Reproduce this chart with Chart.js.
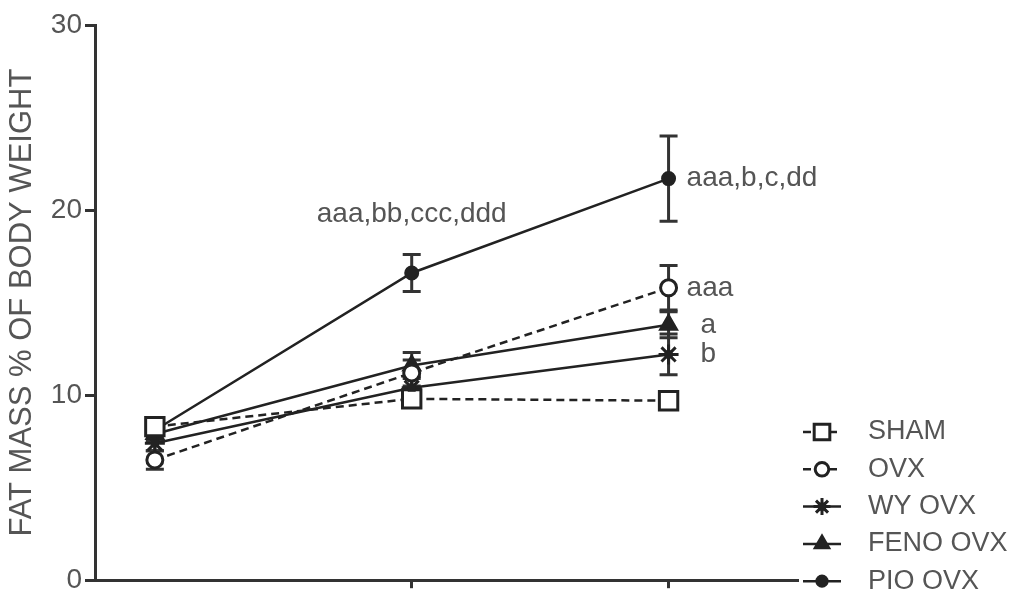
<!DOCTYPE html>
<html>
<head>
<meta charset="utf-8">
<script src="https://cdn.jsdelivr.net/npm/chart.js@4"></script>
<style>
  html, body { margin: 0; padding: 0; background: #fff; }
  #wrap { width: 1024px; height: 600px; }
</style>
</head>
<body>
<div id="wrap"><canvas id="myChart" width="1024" height="600"></canvas></div>
<script>
var timePoints = [1, 2, 3];
var groupNames = ["SHAM", "OVX", "WY OVX", "FENO OVX", "PIO OVX"];
var shamValues = [8.3, 9.8, 9.7];
var shamErr = [0.4, 0.3, 0.3];
var ovxValues = [6.5, 11.2, 15.8];
var ovxErr = [0.5, 0.7, 1.2];
var wyValues = [7.4, 10.4, 12.2];
var wyErr = [0.4, 0.6, 1.1];
var fenoValues = [7.9, 11.6, 13.8];
var fenoErr = [0.4, 0.7, 0.7];
var pioValues = [8.1, 16.6, 21.7];
var pioErr = [0.3, 1.0, 2.3];
var yTicks = [0, 10, 20, 30];
var yTitle = "FAT MASS % OF BODY WEIGHT";
// significance letters: [group index, time index, text]
var sigLabels = [
  [4, 1, "aaa,bb,ccc,ddd"],
  [4, 2, "aaa,b,c,dd"],
  [1, 2, "aaa"],
  [3, 2, "a"],
  [2, 2, "b"]
];

var ink = "#222";
var textGray = "#555";
var fontFam = "'Liberation Sans', Arial, sans-serif";

function pts(vals) {
  return timePoints.map(function (t, i) { return { x: t, y: vals[i] }; });
}

var styles = [
  { pointStyle: "rect", radius: 13, fill: "#fff", dash: [8, 5] },
  { pointStyle: "circle", radius: 8, fill: "#fff", dash: [8, 5] },
  { pointStyle: "star", radius: 10, fill: ink, dash: [] },
  { pointStyle: "triangle", radius: 9, fill: ink, dash: [] },
  { pointStyle: "circle", radius: 6, fill: ink, dash: [] }
];
var allValues = [shamValues, ovxValues, wyValues, fenoValues, pioValues];
var allErr = [shamErr, ovxErr, wyErr, fenoErr, pioErr];

var datasets = allValues.map(function (vals, i) {
  var s = styles[i];
  return {
    label: groupNames[i],
    data: pts(vals),
    errors: allErr[i],
    borderColor: ink,
    borderWidth: 2.5,
    borderDash: s.dash,
    backgroundColor: s.fill,
    pointStyle: s.pointStyle,
    pointRadius: s.radius,
    pointBackgroundColor: s.fill,
    pointBorderColor: ink,
    pointBorderWidth: 3,
    tension: 0,
    fill: false
  };
});

var errorBars = {
  id: "errorBars",
  beforeDatasetsDraw: function (chart) {
    var ctx = chart.ctx, xs = chart.scales.x, ys = chart.scales.y;
    ctx.save();
    ctx.strokeStyle = "#333";
    ctx.lineWidth = 3;
    chart.data.datasets.forEach(function (ds) {
      ds.data.forEach(function (p, i) {
        var e = ds.errors[i];
        var x = xs.getPixelForValue(p.x);
        var yTop = ys.getPixelForValue(p.y + e);
        var yBot = ys.getPixelForValue(p.y - e);
        ctx.beginPath();
        ctx.moveTo(x, yTop); ctx.lineTo(x, yBot);
        ctx.moveTo(x - 9, yTop); ctx.lineTo(x + 9, yTop);
        ctx.moveTo(x - 9, yBot); ctx.lineTo(x + 9, yBot);
        ctx.stroke();
      });
    });
    ctx.restore();
  },
  afterDatasetsDraw: function (chart) {
    // solid centre of the WY asterisk
    var ctx = chart.ctx, meta = chart.getDatasetMeta(2);
    ctx.save();
    ctx.fillStyle = ink;
    meta.data.forEach(function (pt) {
      ctx.fillRect(pt.x - 4, pt.y - 4, 8, 8);
    });
    ctx.restore();
  }
};

var annotations = {
  id: "annotations",
  afterDraw: function (chart) {
    var ctx = chart.ctx, xs = chart.scales.x, ys = chart.scales.y;
    ctx.save();
    ctx.fillStyle = textGray;
    ctx.font = "28px " + fontFam;
    ctx.textBaseline = "middle";
    sigLabels.forEach(function (s) {
      var ds = chart.data.datasets[s[0]];
      var p = ds.data[s[1]];
      var x = xs.getPixelForValue(p.x);
      var y = ys.getPixelForValue(p.y);
      if (s[1] === 1) {
        ctx.textAlign = "center";
        ctx.fillText(s[2], x, ys.getPixelForValue(p.y + ds.errors[1]) - 40);
      } else {
        ctx.textAlign = "left";
        var dx = s[2].length === 1 ? 32 : 18;
        ctx.fillText(s[2], x + dx, y);
      }
    });

    // legend: line sample + marker + name
    var lx = 822, ly = 432, gap = 37.3;
    ctx.font = "27px " + fontFam;
    chart.data.datasets.forEach(function (ds, i) {
      var y = ly + i * gap;
      ctx.strokeStyle = ink;
      ctx.lineWidth = 2.5;
      ctx.setLineDash(styles[i].dash.length ? [8, 5] : []);
      ctx.beginPath();
      ctx.moveTo(lx - 19, y); ctx.lineTo(lx + 19, y);
      ctx.stroke();
      ctx.setLineDash([]);
      ctx.fillStyle = styles[i].fill;
      ctx.lineWidth = 3;
      Chart.helpers.drawPoint(ctx, {
        pointStyle: styles[i].pointStyle,
        radius: styles[i].radius * 0.85,
        borderWidth: 3,
        rotation: 0
      }, lx, y);
      if (i === 2) {
        ctx.fillStyle = ink;
        ctx.fillRect(lx - 4, y - 4, 8, 8);
      }
      ctx.fillStyle = textGray;
      ctx.textAlign = "left";
      ctx.fillText(ds.label, lx + 46, y);
    });
    ctx.restore();
  }
};

new Chart("myChart", {
  type: "line",
  data: { datasets: datasets },
  options: {
    responsive: false,
    animation: false,
    layout: { padding: { top: 25, right: 227, bottom: 0, left: 0 } },
    plugins: {
      legend: { display: false },
      tooltip: { enabled: false }
    },
    scales: {
      x: {
        type: "linear",
        min: 0.767,
        max: 3.5,
        afterBuildTicks: function (scale) {
          scale.ticks = [{ value: 2 }, { value: 3 }];
        },
        afterFit: function (scale) { scale.height = 19; },
        border: { color: "#333", width: 3 },
        grid: { drawOnChartArea: false, drawTicks: true, tickLength: 8, color: "#333", lineWidth: 3 },
        ticks: { display: false }
      },
      y: {
        min: 0,
        max: 30,
        afterBuildTicks: function (scale) {
          scale.ticks = yTicks.map(function (v) { return { value: v }; });
        },
        afterFit: function (scale) { scale.width = 95; },
        border: { color: "#333", width: 3 },
        grid: { drawOnChartArea: false, drawTicks: true, tickLength: 10, color: "#333", lineWidth: 3 },
        ticks: { color: textGray, font: { size: 28, family: fontFam }, padding: 3 },
        title: { display: true, text: yTitle, color: textGray, font: { size: 31, family: fontFam }, padding: { top: 4, bottom: 0 } }
      }
    }
  },
  plugins: [errorBars, annotations]
});
</script>
</body>
</html>
